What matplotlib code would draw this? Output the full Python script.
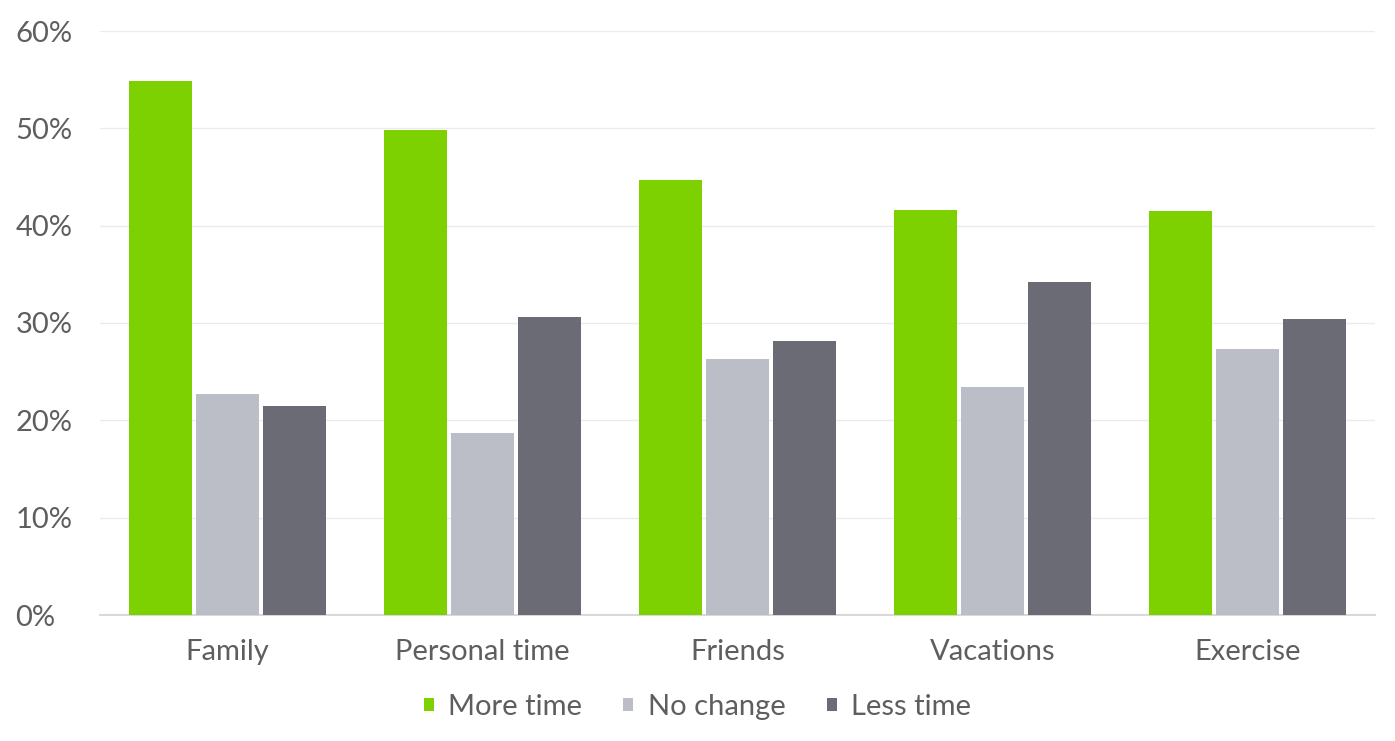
import numpy as np
import matplotlib
matplotlib.use('Agg')
import matplotlib.pyplot as plt

# data
categories = ['Family', 'Personal time', 'Friends', 'Vacations', 'Exercise']
series_names = ['More time', 'No change', 'Less time']
more_time = [54.9, 49.8, 44.7, 41.6, 41.5]
no_change = [22.7, 18.7, 26.3, 23.4, 27.3]
less_time = [21.5, 30.6, 28.2, 34.2, 30.4]
colors = ['#7ED100', '#BBBEC6', '#6B6B75']

plt.rcParams['font.family'] = ['Lato', 'DejaVu Sans']
text_color = '#5E5E5E'

fig = plt.figure(figsize=(13.95, 7.41), dpi=100)
ax = fig.add_axes([100 / 1395, 1 - 615 / 741, 1275 / 1395, (615 - 31) / 741])

x = np.arange(len(categories))
width = 0.25
step = 0.263
for i, (vals, name) in enumerate(zip([more_time, no_change, less_time], series_names)):
    ax.bar(x + (i - 1) * step, vals, width, color=colors[i], label=name, zorder=3)

ax.set_xlim(-0.5, len(categories) - 0.5)
ax.set_ylim(0, 60)
ax.set_yticks(range(0, 61, 10))
ax.set_yticklabels([f'{v}%' for v in range(0, 61, 10)])
ax.set_xticks(x)
ax.set_xticklabels(categories)
ax.grid(axis='y', color='#EBEBEB', linewidth=1, zorder=0)
for s in ['top', 'right', 'left']:
    ax.spines[s].set_visible(False)
ax.spines['bottom'].set_color('#D9D9D9')
ax.spines['bottom'].set_linewidth(1.5)
ax.tick_params(axis='both', length=0, labelsize=21, labelcolor=text_color)
ax.tick_params(axis='x', pad=17)
ax.tick_params(axis='y', pad=61)
for lbl in ax.get_yticklabels():
    lbl.set_horizontalalignment('left')

leg = fig.legend(loc='center', bbox_to_anchor=(0.5, 1 - 707 / 741), ncol=3, frameon=False,
                 fontsize=21, handlelength=0.35, handleheight=0.35, handletextpad=0.5,
                 columnspacing=1.4)
for t in leg.get_texts():
    t.set_color(text_color)

fig.savefig('out.png', dpi=100)
